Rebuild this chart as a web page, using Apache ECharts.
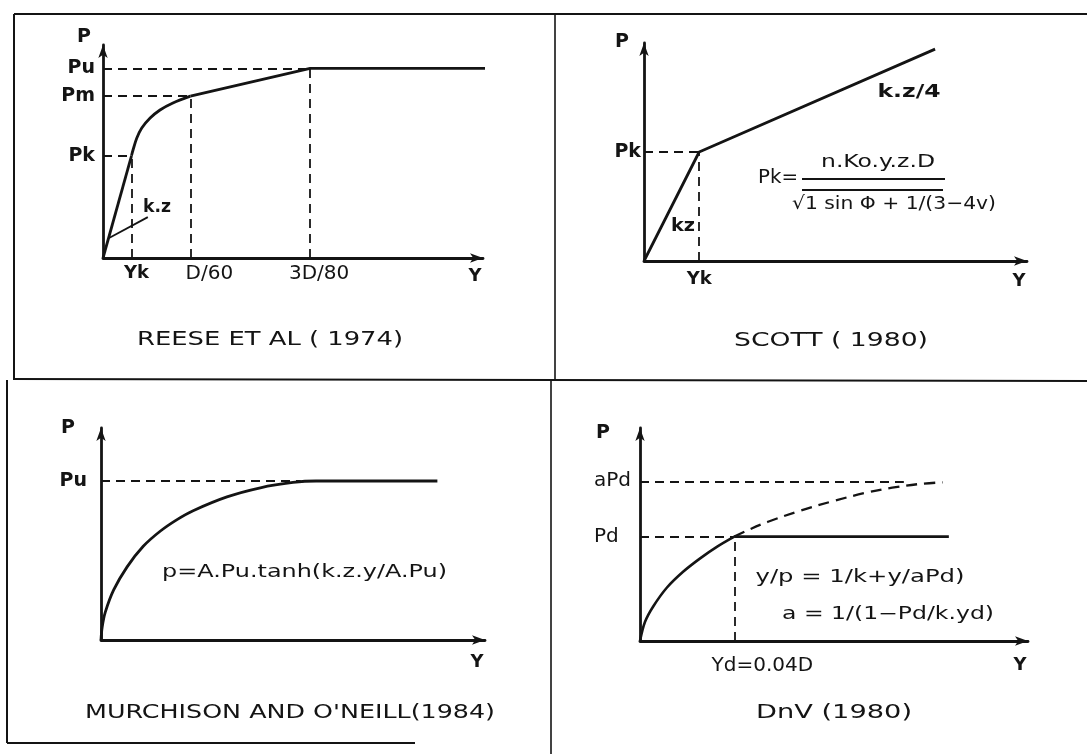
<!DOCTYPE html>
<html>
<head>
<meta charset="utf-8">
<script src="https://cdn.jsdelivr.net/npm/echarts@6/dist/echarts.min.js"></script>
<style>
  html, body { margin: 0; padding: 0; background: #ffffff; }
  #chart { width: 1087px; height: 754px; }
</style>
</head>
<body>
<div id="chart"></div>
<script>
// ---- Reese et al. (1974): linear, parabolic, linear, plateau ----
const reeseTickNamesX = ['Yk', 'D/60', '3D/80'];
const reeseTickNamesY = ['Pu', 'Pm', 'Pk'];
const reeseYk = 0.75, reeseD60 = 2.3, reese3D80 = 5.45;
const reesePu = 8.9, reesePm = 7.6, reesePk = 4.8;
const reeseInitial = [[0, 0], [0.75, 4.8]];
const reeseParabola = [[0.75, 4.8], [0.79, 5.07], [0.89, 5.63], [1.02, 6.1], [1.24, 6.57], [1.5, 6.95], [1.84, 7.28], [2.3, 7.6]];
const reeseUpper = [[2.3, 7.6], [5.45, 8.9], [10.08, 8.9]];
const reeseLeader = [[0.16, 0.94], [1.18, 1.92]];

// ---- Scott (1980): bilinear ----
const scottTickNamesX = ['Yk'];
const scottTickNamesY = ['Pk'];
const scottYk = 1.44, scottPk = 5.0;
const scottCurve = [[0, 0], [1.44, 5.0], [7.6, 9.72]];

// ---- Murchison and O'Neill (1984): tanh curve ----
const murchTickNamesY = ['Pu'];
const murchPu = 7.5;
const murchPuDashEnd = 5.2;
const murchCurve = [[0, 0], [0.03, 0.6], [0.11, 1.3], [0.33, 2.36], [0.68, 3.45], [1.1, 4.42], [1.54, 5.13],
  [1.98, 5.68], [2.4, 6.1], [3.28, 6.75], [4.15, 7.18], [5.0, 7.43], [5.6, 7.5], [8.76, 7.5]];

// ---- DnV (1980): hyperbola cut off at Pd ----
const dnvTickNamesX = ['Yd=0.04D'];
const dnvTickNamesY = ['aPd', 'Pd'];
const dnvYd = 2.43, dnvPd = 4.9, dnvAPd = 7.5;
const dnvAPdDashEnd = 6.8;
const dnvRising = [[0, 0], [0.13, 0.9], [0.34, 1.62], [0.69, 2.5], [1.11, 3.25], [1.55, 3.88], [1.98, 4.42], [2.43, 4.9]];
const dnvPlateau = [[2.43, 4.9], [7.96, 4.9]];
const dnvHyperbola = [[2.43, 4.9], [2.8, 5.22], [3.3, 5.6], [4.1, 6.1], [5.0, 6.58], [5.8, 6.95], [6.5, 7.2], [7.2, 7.37], [7.8, 7.45]];

const ink = '#141414';
const FONT = "'DejaVu Sans', 'Liberation Sans', sans-serif";
const dash = [9, 6];

const chart = echarts.init(document.getElementById('chart'), null, { renderer: 'canvas' });

function labelFor(values, names, styles) {
  return function (v) {
    const i = values.findIndex(function (t) { return Math.abs(t - v) < 1e-9; });
    if (i < 0) return '';
    return styles ? '{' + styles[i] + '|' + names[i] + '}' : names[i];
  };
}

function axisLineStyle() {
  return {
    show: true, onZero: false,
    symbol: ['none', 'arrow'], symbolSize: [7, 13],
    lineStyle: { color: ink, width: 2.8 }
  };
}

function rich(extra) {
  const base = { fontSize: 18, fontFamily: FONT, color: ink };
  return Object.assign({}, base, extra);
}

function xAxis(gi, values, names, styles, labelMargin, namePad) {
  return {
    type: 'value', gridIndex: gi, min: 0, max: 10,
    axisLine: axisLineStyle(),
    axisTick: { show: false }, splitLine: { show: false },
    axisLabel: {
      show: values.length > 0, customValues: values, margin: labelMargin,
      formatter: labelFor(values, names, styles),
      color: ink, fontFamily: FONT, fontSize: 18,
      rich: {
        b: rich({ fontWeight: 'bold' }),
        bR5: rich({ fontWeight: 'bold', padding: [0, 0, 0, 10] }),
        nR19: rich({ fontSize: 20, padding: [0, 0, 0, 38] }),
        nR9: rich({ fontSize: 20, padding: [0, 0, 0, 18] }),
        nR28: rich({ fontSize: 20, padding: [0, 0, 0, 56] })
      }
    },
    name: 'Y', nameLocation: 'end', nameGap: -8,
    nameTextStyle: { color: ink, fontFamily: FONT, fontSize: 18, fontWeight: 'bold', align: 'center', verticalAlign: 'top', padding: [namePad, 0, 0, 0] }
  };
}

function yAxis(gi, values, names, styles, align, margin, nameGap, namePadRight) {
  return {
    type: 'value', gridIndex: gi, min: 0, max: 10,
    axisLine: axisLineStyle(),
    axisTick: { show: false }, splitLine: { show: false },
    axisLabel: {
      show: true, customValues: values, margin: margin, align: align,
      formatter: labelFor(values, names, styles),
      color: ink, fontFamily: FONT, fontSize: 19,
      rich: {
        b: rich({ fontWeight: 'bold', fontSize: 19 }),
        n: rich({ fontSize: 20 })
      }
    },
    name: 'P', nameLocation: 'end', nameGap: nameGap,
    nameTextStyle: { color: ink, fontFamily: FONT, fontSize: 19, fontWeight: 'bold', align: 'right', verticalAlign: 'middle', padding: [0, namePadRight, 0, 0] }
  };
}

function solid(gi, data, width, smooth) {
  return {
    type: 'line', xAxisIndex: gi, yAxisIndex: gi, data: data,
    showSymbol: false, symbol: 'none', smooth: smooth || false,
    clip: false, silent: true,
    lineStyle: { color: ink, width: width || 2.8 }, z: 3
  };
}

function guides(gi, segments) {
  return {
    type: 'line', xAxisIndex: gi, yAxisIndex: gi, data: [], silent: true,
    markLine: {
      silent: true, symbol: ['none', 'none'], label: { show: false },
      lineStyle: { color: ink, width: 1.8, type: dash },
      emphasis: { disabled: true },
      data: segments.map(function (s) { return [{ coord: s[0] }, { coord: s[1] }]; })
    }
  };
}

// Helper: text stretched horizontally to the width of the hand lettering
const measureCtx = document.createElement('canvas').getContext('2d');
function letter(text, cx, cy, width, size, weight) {
  const w = weight || 'normal';
  const font = w + ' ' + size + 'px ' + FONT;
  measureCtx.font = font;
  const natural = measureCtx.measureText(text).width;
  return {
    type: 'text', x: cx, y: cy, scaleX: width / natural, z: 10, silent: true,
    style: {
      text: text, x: 0, y: 0, font: font, fill: ink,
      align: 'center', verticalAlign: 'middle', textAlign: 'center', textVerticalAlign: 'middle'
    }
  };
}

function rule(x1, y1, x2, y2, w) {
  return { type: 'line', silent: true, z: 9, shape: { x1: x1, y1: y1, x2: x2, y2: y2 }, style: { stroke: ink, lineWidth: w || 2 } };
}

const option = {
  backgroundColor: '#ffffff',
  animation: false,
  grid: [
    { left: 103, top: 45, width: 380, height: 213 },
    { left: 644, top: 43, width: 383, height: 218 },
    { left: 101, top: 428, width: 384, height: 212 },
    { left: 640, top: 428, width: 388, height: 213 }
  ],
  xAxis: [
    xAxis(0, [reeseYk, reeseD60, reese3D80], reeseTickNamesX, ['bR5', 'nR19', 'nR9'], 6, 9),
    xAxis(1, [scottYk], scottTickNamesX, ['b'], 9, 11),
    xAxis(2, [], [], null, 8, 13),
    xAxis(3, [dnvYd], dnvTickNamesX, ['nR28'], 15, 15)
  ],
  yAxis: [
    yAxis(0, [reesePu, reesePm, reesePk], reeseTickNamesY, ['b', 'b', 'b'], 'right', 8, 8, 12),
    yAxis(1, [scottPk], scottTickNamesY, ['b'], 'right', 3, 1, 15),
    yAxis(2, [murchPu], murchTickNamesY, ['b'], 'right', 14, 0, 26),
    yAxis(3, [dnvAPd, dnvPd], dnvTickNamesY, ['n', 'n'], 'left', 46, -5, 30)
  ],
  series: [
    // Reese et al.
    solid(0, reeseInitial, 2.8),
    solid(0, reeseParabola, 2.8, 0.35),
    solid(0, reeseUpper, 2.8),
    solid(0, reeseLeader, 1.8),
    guides(0, [
      [[0, reesePu], [reese3D80, reesePu]],
      [[0, reesePm], [reeseD60, reesePm]],
      [[0, reesePk], [reeseYk, reesePk]],
      [[reeseYk, 0], [reeseYk, reesePk]],
      [[reeseD60, 0], [reeseD60, reesePm]],
      [[reese3D80, 0], [reese3D80, reesePu]]
    ]),
    // Scott
    solid(1, scottCurve, 2.8),
    guides(1, [
      [[0, scottPk], [scottYk, scottPk]],
      [[scottYk, 0], [scottYk, scottPk]]
    ]),
    // Murchison and O'Neill
    solid(2, murchCurve, 2.8, 0.35),
    guides(2, [
      [[0, murchPu], [murchPuDashEnd, murchPu]]
    ]),
    // DnV
    solid(3, dnvRising, 2.6, 0.35),
    solid(3, dnvPlateau, 2.6),
    {
      type: 'line', xAxisIndex: 3, yAxisIndex: 3, data: dnvHyperbola, smooth: 0.35,
      showSymbol: false, symbol: 'none', clip: false, silent: true,
      lineStyle: { color: ink, width: 2.3, type: [11, 7] }
    },
    guides(3, [
      [[0, dnvAPd], [dnvAPdDashEnd, dnvAPd]],
      [[0, dnvPd], [dnvYd, dnvPd]],
      [[dnvYd, 0], [dnvYd, dnvPd]]
    ])
  ],
  graphic: [
    // panel frame
    rule(14, 14, 1087, 14, 2),
    rule(14, 14, 14, 380, 2),
    rule(7, 380, 7, 743, 2),
    rule(14, 379, 1087, 381, 2),
    rule(555, 14, 555, 380, 1.6),
    rule(551, 380, 551, 754, 1.6),
    rule(7, 743, 415, 743, 2),
    // panel titles
    letter('REESE ET AL ( 1974)', 270, 340, 266, 19),
    letter('SCOTT ( 1980)', 831, 341, 194, 19),
    letter("MURCHISON AND O'NEILL(1984)", 290, 713, 410, 19),
    letter('DnV (1980)', 834, 713, 156, 19),
    // annotations
    letter('k.z', 157, 207, 28, 18, 'bold'),
    letter('k.z/4', 909, 92, 63, 18, 'bold'),
    letter('kz', 683, 226, 24, 18, 'bold'),
    letter('Pk=', 778, 178, 40, 19),
    letter('n.Ko.y.z.D', 878, 163, 114, 17),
    rule(802, 179, 945, 179, 2),
    rule(802, 190, 943, 190, 1.8),
    letter('√1 sin Φ + 1/(3−4v)', 894, 204, 204, 18),
    letter('p=A.Pu.tanh(k.z.y/A.Pu)', 304.5, 573, 285, 17),
    letter('y/p = 1/k+y/aPd)', 860, 578, 209, 17),
    letter('a = 1/(1−Pd/k.yd)', 888, 615, 212, 17)
  ]
};

chart.setOption(option);
</script>
</body>
</html>
